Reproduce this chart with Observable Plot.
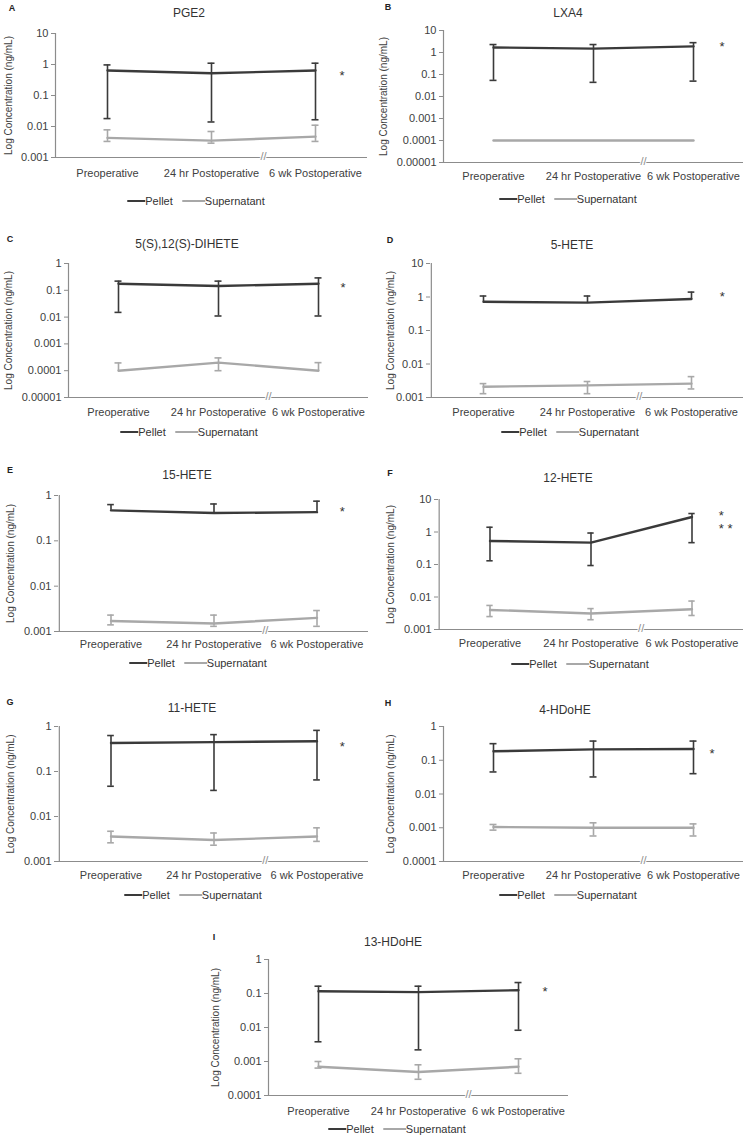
<!DOCTYPE html>
<html><head><meta charset="utf-8">
<script src="https://cdn.jsdelivr.net/npm/d3@7"></script>
<script src="https://cdn.jsdelivr.net/npm/@observablehq/plot@0.6"></script>
<style>
body{margin:0;background:#fff;}
#fig{position:relative;width:749px;height:1136px;overflow:hidden;font-family:"Liberation Sans",Arial,sans-serif;background:#fff;}
.abs{position:absolute;}
.abs svg{overflow:visible;}
.title{font-size:12px;color:#333;transform:translate(-50%,-50%);white-space:nowrap;}
.letter{font-size:9px;font-weight:bold;color:#222;transform:translate(-50%,-50%);}
.legend{font-size:11px;color:#333;transform:translate(-50%,-50%);display:flex;align-items:center;white-space:nowrap;}
.sw{display:inline-block;height:2.5px;}
</style></head><body><div id="fig"></div>
<script>
const categories = ["Preoperative", "24 hr Postoperative", "6 wk Postoperative"];
const seriesNames = ["Pellet", "Supernatant"];

const pge2Pellet = [0.64, 0.52, 0.64];
const pge2PelletErr = [[0.018, 0.97], [0.014, 1.1], [0.0165, 1.1]];
const pge2Super = [0.0043, 0.0035, 0.0047];
const pge2SuperErr = [[0.0033, 0.0078], [0.0029, 0.0069], [0.0033, 0.011]];
const pge2Stars = [["*", 0.55]];

const lxa4Pellet = [1.7, 1.5, 1.9];
const lxa4PelletErr = [[0.054, 2.3], [0.044, 2.3], [0.05, 2.8]];
const lxa4Super = [0.0001, 0.0001, 0.0001];
const lxa4SuperErr = [[null, null], [null, null], [null, null]];
const lxa4Stars = [["*", 2.6]];

const dihetePellet = [0.175, 0.145, 0.175];
const dihetePelletErr = [[0.015, 0.22], [0.011, 0.22], [0.011, 0.29]];
const diheteSuper = [0.0001, 0.0002, 0.0001];
const diheteSuperErr = [[null, 0.000195], [0.0001, 0.0003], [null, 0.0002]];
const diheteStars = [["*", 0.154]];

const hete5Pellet = [0.72, 0.68, 0.87];
const hete5PelletErr = [[null, 1.07], [null, 1.07], [null, 1.4]];
const hete5Super = [0.0021, 0.0023, 0.0026];
const hete5SuperErr = [[0.0013, 0.0026], [0.0013, 0.003], [0.0018, 0.0042]];
const hete5Stars = [["*", 1.23]];

const hete15Pellet = [0.47, 0.41, 0.43];
const hete15PelletErr = [[null, 0.63], [null, 0.65], [null, 0.75]];
const hete15Super = [0.0017, 0.0015, 0.002];
const hete15SuperErr = [[0.0014, 0.0023], [0.0013, 0.0023], [0.0013, 0.0029]];
const hete15Stars = [["*", 0.52]];

const hete12Pellet = [0.53, 0.47, 2.9];
const hete12PelletErr = [[0.13, 1.4], [0.093, 0.93], [0.47, 3.7]];
const hete12Super = [0.004, 0.0031, 0.0042];
const hete12SuperErr = [[0.0025, 0.0055], [0.002, 0.0044], [0.0027, 0.0075]];
const hete12Stars = [["*", 4.0], ["* *", 1.6]];

const hete11Pellet = [0.43, 0.45, 0.47];
const hete11PelletErr = [[0.047, 0.63], [0.038, 0.66], [0.065, 0.82]];
const hete11Super = [0.0036, 0.003, 0.0036];
const hete11SuperErr = [[0.0026, 0.0047], [0.0023, 0.0043], [0.0028, 0.0056]];
const hete11Stars = [["*", 0.42]];

const hdohe4Pellet = [0.185, 0.21, 0.215];
const hdohe4PelletErr = [[0.045, 0.31], [0.032, 0.37], [0.04, 0.37]];
const hdohe4Super = [0.00105, 0.001, 0.001];
const hdohe4SuperErr = [[0.00085, 0.00125], [0.00057, 0.0014], [0.00057, 0.0013]];
const hdohe4Stars = [["*", 0.185]];

const hdohe13Pellet = [0.117, 0.11, 0.125];
const hdohe13PelletErr = [[0.0038, 0.164], [0.0022, 0.164], [0.0083, 0.21]];
const hdohe13Super = [0.0007, 0.00049, 0.0007];
const hdohe13SuperErr = [[0.00064, 0.001], [0.0003, 0.0008], [0.00045, 0.0012]];
const hdohe13Stars = [["*", 0.14]];

const ticks10to1e3 = [10, 1, 0.1, 0.01, 0.001];
const ticks10to1e5 = [10, 1, 0.1, 0.01, 0.001, 0.0001, 0.00001];
const ticks1to1e5 = [1, 0.1, 0.01, 0.001, 0.0001, 0.00001];
const ticks1to1e3 = [1, 0.1, 0.01, 0.001];
const ticks1to1e4 = [1, 0.1, 0.01, 0.001, 0.0001];

const yLabel = "Log Concentration (ng/mL)";

const panels = [
  {letter:"A", name:"PGE2", pellet:pge2Pellet, pelletErr:pge2PelletErr, sup:pge2Super, supErr:pge2SuperErr, stars:pge2Stars, ticks:ticks10to1e3,
   frame:[55,367,33,157], colLeft:0, title:[189,13], letterXY:[12,8], legend:[196,201], ylab:8, xlab:16, star:342},
  {letter:"B", name:"LXA4", pellet:lxa4Pellet, pelletErr:lxa4PelletErr, sup:lxa4Super, supErr:lxa4SuperErr, stars:lxa4Stars, ticks:ticks10to1e5,
   frame:[443,743,30,162], colLeft:375, title:[568,13], letterXY:[388,7], legend:[568,199], ylab:383, xlab:14, star:722},
  {letter:"C", name:"5(S),12(S)-DIHETE", pellet:dihetePellet, pelletErr:dihetePelletErr, sup:diheteSuper, supErr:diheteSuperErr, stars:diheteStars, ticks:ticks1to1e5,
   frame:[68,368,263,397], colLeft:0, title:[187,244], letterXY:[10,239], legend:[189,432], ylab:8, xlab:15, star:343},
  {letter:"D", name:"5-HETE", pellet:hete5Pellet, pelletErr:hete5PelletErr, sup:hete5Super, supErr:hete5SuperErr, stars:hete5Stars, ticks:ticks10to1e3,
   frame:[430,743,263,397], colLeft:375, title:[572,245], letterXY:[390,240], legend:[570,432], ylab:390, xlab:15, star:722},
  {letter:"E", name:"15-HETE", pellet:hete15Pellet, pelletErr:hete15PelletErr, sup:hete15Super, supErr:hete15SuperErr, stars:hete15Stars, ticks:ticks1to1e3,
   frame:[58,368,495,631], colLeft:0, title:[187,475], letterXY:[10,470], legend:[198,663], ylab:10, xlab:13, star:342},
  {letter:"F", name:"12-HETE", pellet:hete12Pellet, pelletErr:hete12PelletErr, sup:hete12Super, supErr:hete12SuperErr, stars:hete12Stars, ticks:ticks10to1e3,
   frame:[438,743,499,629], colLeft:375, title:[568,478], letterXY:[390,473], legend:[580,664], ylab:390, xlab:14, star:722},
  {letter:"G", name:"11-HETE", pellet:hete11Pellet, pelletErr:hete11PelletErr, sup:hete11Super, supErr:hete11SuperErr, stars:hete11Stars, ticks:ticks1to1e3,
   frame:[58,368,726,861], colLeft:0, title:[192,708], letterXY:[10,702], legend:[193,895], ylab:10, xlab:14, star:342},
  {letter:"H", name:"4-HDoHE", pellet:hdohe4Pellet, pelletErr:hdohe4PelletErr, sup:hdohe4Super, supErr:hdohe4SuperErr, stars:hdohe4Stars, ticks:ticks1to1e4,
   frame:[443,743,726,861], colLeft:375, title:[565,710], letterXY:[388,703], legend:[568,895], ylab:390, xlab:14, star:712},
  {letter:"I", name:"13-HDoHE", pellet:hdohe13Pellet, pelletErr:hdohe13PelletErr, sup:hdohe13Super, supErr:hdohe13SuperErr, stars:hdohe13Stars, ticks:ticks1to1e4,
   frame:[268,568,959,1095], colLeft:200, title:[393,942], letterXY:[214,937], legend:[397,1129], ylab:215, xlab:16, star:545}
];

const PELLET = "#3a3a3a", SUPER = "#a8a8a8", AXIS = "#8c8c8c", TEXT = "#404040";
const FONT = '"Liberation Sans", Arial, sans-serif';
const fig = document.getElementById("fig");

function rowsFor(means, errs) {
  return categories.map((c, i) => ({cat: c, v: means[i], lo: errs[i][0], hi: errs[i][1]}));
}

function seriesMarks(rows, color, capInset) {
  const bars = rows.filter(d => d.hi != null || d.lo != null);
  return [
    Plot.ruleX(bars, {x: "cat", y1: d => d.lo ?? d.v, y2: d => d.hi ?? d.v, stroke: color, strokeWidth: 1.6}),
    Plot.tickY(rows.filter(d => d.hi != null), {x: "cat", y: "hi", stroke: color, strokeWidth: 1.6, insetLeft: capInset, insetRight: capInset}),
    Plot.tickY(rows.filter(d => d.lo != null), {x: "cat", y: "lo", stroke: color, strokeWidth: 1.6, insetLeft: capInset, insetRight: capInset}),
    Plot.line(rows, {x: "cat", y: "v", stroke: color, strokeWidth: 2.4})
  ];
}

function addDiv(cls, x, y, html) {
  const d = document.createElement("div");
  d.className = "abs " + cls;
  d.style.left = x + "px"; d.style.top = y + "px";
  d.innerHTML = html;
  fig.appendChild(d);
  return d;
}

for (const p of panels) {
  const [x0, x1, yT, yB] = p.frame;
  const ML = x0 - p.colLeft, MR = 6, MT = 10, MB = 30;
  const W = x1 + MR - p.colLeft, H = yB - yT + MT + MB;
  const bw = (x1 - x0) / 3;
  const capInset = (bw - 7) / 2;
  const dom = [p.ticks[p.ticks.length - 1], p.ticks[0]];
  const pel = rowsFor(p.pellet, p.pelletErr);
  const sup = rowsFor(p.sup, p.supErr);
  const chart = Plot.plot({
    width: W, height: H,
    marginLeft: ML, marginRight: MR, marginTop: MT, marginBottom: MB,
    style: {fontFamily: FONT, fontSize: "11px", color: TEXT, background: "transparent", overflow: "visible"},
    x: {type: "band", domain: categories, padding: 0, align: 0.5},
    y: {type: "log", domain: dom},
    marks: [
      Plot.axisX({tickSize: 0, tickPadding: p.xlab - 4, label: null, fontSize: 11, fill: TEXT}),
      Plot.axisY({ticks: p.ticks, tickFormat: d => String(d), tickSize: 4, tickPadding: 3, stroke: AXIS, fill: TEXT, label: null, fontSize: 11}),
      Plot.ruleX([0], {x: () => categories[0], dx: -bw / 2, y1: () => dom[0], y2: () => dom[1], stroke: AXIS, strokeWidth: 1.2}),
      Plot.ruleY([dom[0]], {stroke: AXIS, strokeWidth: 1.2}),
      Plot.text([0], {x: () => categories[2], y: () => dom[0], dx: -bw / 2, dy: -1, text: () => "//", fill: AXIS, stroke: "white", strokeWidth: 2, paintOrder: "stroke", fontSize: 11}),
      ...seriesMarks(sup, SUPER, capInset),
      ...seriesMarks(pel, PELLET, capInset),
      Plot.text(p.stars, {x: () => categories[2], y: d => d[1], text: d => d[0], textAnchor: "start", dx: p.star - (x0 + 2.5 * bw) - 3, dy: 3, fontSize: 13, fill: "#333"}),
      Plot.text([yLabel], {frameAnchor: "left", textAnchor: "middle", rotate: -90, dx: -(x0 - p.ylab), text: d => d, fontSize: 10, fill: TEXT})
    ]
  });
  const holder = addDiv("", p.colLeft, yT - MT, "");
  holder.appendChild(chart);
  addDiv("title", p.title[0], p.title[1], p.name);
  addDiv("letter", p.letterXY[0], p.letterXY[1], p.letter);
  addDiv("legend", p.legend[0], p.legend[1],
    `<span class="sw" style="width:18px;background:${PELLET}"></span><span>${seriesNames[0]}</span>` +
    `<span class="sw" style="width:23px;background:${SUPER};margin-left:9px"></span><span>${seriesNames[1]}</span>`);
}
</script></body></html>
